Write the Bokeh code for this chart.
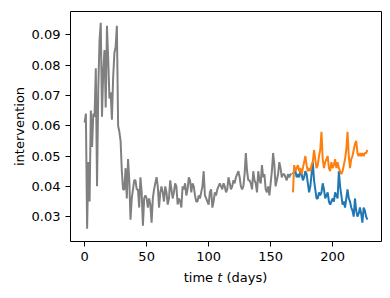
from bokeh.plotting import figure
from bokeh.models import FixedTicker, PrintfTickFormatter, Range1d, Div
from bokeh.layouts import column
from bokeh.embed import file_html
from bokeh.resources import INLINE

# ---- data ----
gray_values = [
    0.061, 0.064, 0.026, 0.048, 0.035, 0.065, 0.053, 0.064, 0.063, 0.079,
    0.040, 0.072, 0.088, 0.094, 0.063, 0.078, 0.085, 0.066, 0.093, 0.082,
    0.069, 0.071, 0.062, 0.076, 0.084, 0.086, 0.093, 0.060, 0.058, 0.055,
    0.045, 0.039, 0.039, 0.046, 0.036, 0.049, 0.042, 0.029, 0.036, 0.039,
    0.042, 0.042, 0.039, 0.039, 0.033, 0.043, 0.038, 0.027, 0.036, 0.037,
    0.036, 0.033, 0.036, 0.034, 0.028, 0.036, 0.039, 0.041, 0.043, 0.040,
    0.033, 0.038, 0.040, 0.038, 0.035, 0.040, 0.038, 0.034, 0.036, 0.042,
    0.039, 0.036, 0.038, 0.041, 0.040, 0.034, 0.036, 0.035, 0.033, 0.040,
    0.039, 0.041, 0.037, 0.039, 0.043, 0.042, 0.038, 0.041, 0.040, 0.037,
    0.035, 0.035, 0.037, 0.036, 0.038, 0.040, 0.045, 0.037, 0.036, 0.035,
    0.034, 0.038, 0.039, 0.033, 0.035, 0.038, 0.037, 0.039, 0.040, 0.041,
    0.040, 0.039, 0.041, 0.040, 0.038, 0.039, 0.043, 0.041, 0.039, 0.040,
    0.042, 0.041, 0.043, 0.044, 0.045, 0.043, 0.040, 0.039, 0.040, 0.044,
    0.051, 0.045, 0.042, 0.042, 0.041, 0.039, 0.045, 0.042, 0.041, 0.038,
    0.045, 0.042, 0.041, 0.047, 0.043, 0.044, 0.039, 0.038, 0.040, 0.037,
    0.041, 0.045, 0.051, 0.047, 0.040, 0.042, 0.044, 0.048, 0.046, 0.043,
    0.044, 0.044, 0.043, 0.042, 0.044, 0.043, 0.044, 0.044,
]
gray_days = list(range(0, len(gray_values)))

blue_values = [
    0.044, 0.045, 0.045, 0.043, 0.044, 0.043, 0.045, 0.044, 0.042, 0.043,
    0.045, 0.044, 0.041, 0.038, 0.040, 0.044, 0.048, 0.042, 0.039, 0.036,
    0.036, 0.038, 0.037, 0.038, 0.041, 0.039, 0.036, 0.037, 0.038, 0.035,
    0.034, 0.035, 0.036, 0.035, 0.038, 0.037, 0.036, 0.045, 0.040, 0.037,
    0.034, 0.035, 0.033, 0.036, 0.039, 0.036, 0.035, 0.033, 0.032, 0.030,
    0.036, 0.032, 0.030, 0.031, 0.033, 0.031, 0.028, 0.033, 0.032, 0.030,
    0.029,
]
orange_values = [
    0.038, 0.047, 0.045, 0.046, 0.047, 0.045, 0.046, 0.044, 0.046, 0.048,
    0.050, 0.047, 0.045, 0.046, 0.045, 0.047, 0.048, 0.052, 0.049, 0.046,
    0.047, 0.050, 0.052, 0.058, 0.049, 0.046, 0.048, 0.049, 0.050, 0.046,
    0.045, 0.048, 0.046, 0.047, 0.049, 0.046, 0.048, 0.046, 0.045, 0.044,
    0.045, 0.047, 0.049, 0.052, 0.058, 0.050, 0.046, 0.049, 0.050, 0.052,
    0.054, 0.055, 0.051, 0.050, 0.051, 0.050, 0.051, 0.050, 0.051, 0.051,
    0.052,
]
branch_days = list(range(168, 168 + len(blue_values)))

x_ticks = [0, 50, 100, 150, 200]
y_ticks = [0.03, 0.04, 0.05, 0.06, 0.07, 0.08, 0.09]

FONT = "DejaVu Sans"

p = figure(width=382, height=268, output_backend="svg", toolbar_location=None,
           x_range=Range1d(-11.4, 239.4), y_range=Range1d(0.0218, 0.0977),
           min_border_left=70, min_border_right=1, min_border_top=11, min_border_bottom=27)
p.background_fill_color = "white"
p.border_fill_color = "white"
p.outline_line_color = "black"
p.outline_line_alpha = 1.0
p.outline_line_width = 1
p.grid.visible = False

p.line(gray_days, gray_values, line_color="#808080", line_width=2)
p.line(branch_days, blue_values, line_color="#1f77b4", line_width=2)
p.line(branch_days, orange_values, line_color="#ff7f0e", line_width=2)

for ax in (p.xaxis[0], p.yaxis[0]):
    ax.axis_line_color = None
    ax.major_tick_out = 5
    ax.major_tick_in = 0
    ax.major_tick_line_color = "black"
    ax.minor_tick_line_color = None
    ax.major_label_text_font = FONT
    ax.major_label_text_font_size = "13px"
    ax.major_label_text_color = "black"
    ax.axis_label_text_font = FONT
    ax.axis_label_text_font_size = "13px"
    ax.axis_label_text_font_style = "normal"
    ax.axis_label_text_color = "black"

p.xaxis.ticker = FixedTicker(ticks=x_ticks)
p.yaxis.ticker = FixedTicker(ticks=y_ticks)
p.yaxis.formatter = PrintfTickFormatter(format="%.2f")
p.yaxis.axis_label = "intervention"
p.yaxis.axis_label_standoff = 2
p.xaxis.axis_label = None

xlabel = Div(
    width=382, height=22,
    text=('<div style="width:311px; margin-left:70px; margin-top:2px; text-align:center; '
          'font-family:\'DejaVu Sans\'; font-size:13px; line-height:16px; color:black;">'
          'time <i>t</i> (days)</div>'),
    margin=(0, 0, 0, 0),
)

layout = column(p, xlabel, spacing=0)

open("out.html", "w").write(file_html(layout, INLINE))
